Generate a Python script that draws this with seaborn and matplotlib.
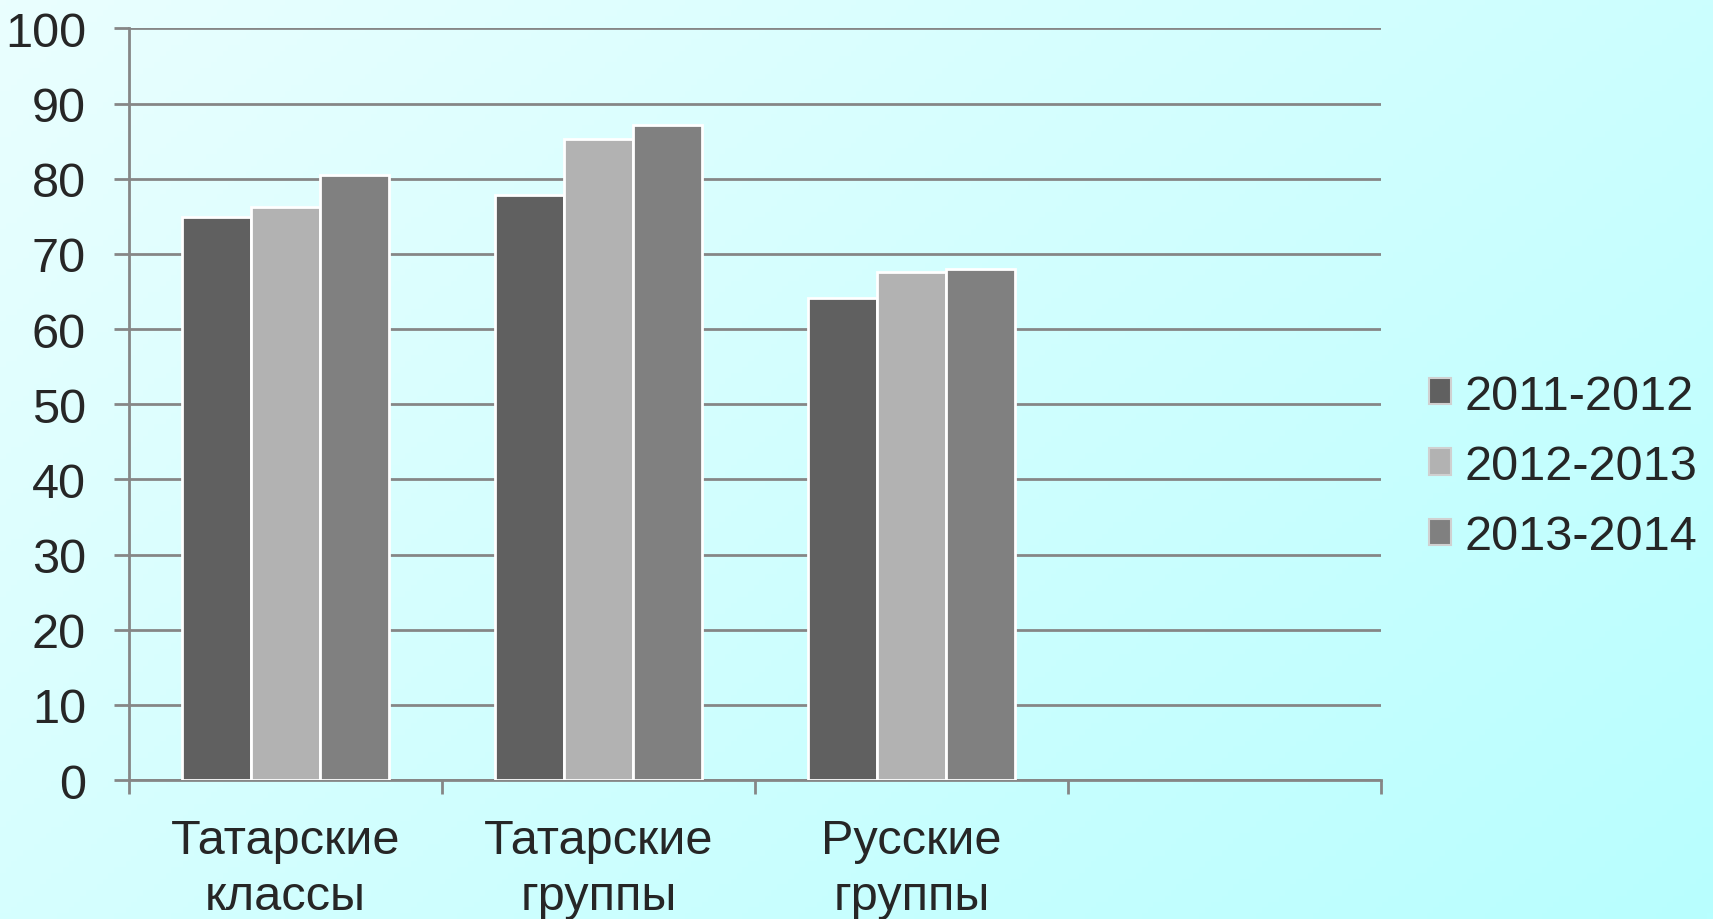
import numpy as np
import pandas as pd
import matplotlib
matplotlib.use("Agg")
import matplotlib.pyplot as plt
import seaborn as sns
from matplotlib.ticker import FixedLocator

# DATA
categories = ["Татарские\nклассы", "Татарские\nгруппы", "Русские\nгруппы"]
years = ["2011-2012", "2012-2013", "2013-2014"]
values_2011 = [74.9, 77.8, 64.1]
values_2012 = [76.2, 85.3, 67.6]
values_2013 = [80.5, 87.2, 68.0]
y_ticks = [0, 10, 20, 30, 40, 50, 60, 70, 80, 90, 100]

colors = ["#606060", "#b2b2b2", "#808080"]
grid_color = "#868686"

# STYLE
sns.set_theme(style="white")
plt.rcParams["font.family"] = ["Liberation Sans", "DejaVu Sans"]

df = pd.DataFrame({
    "category": categories * 3,
    "year": [years[0]] * 3 + [years[1]] * 3 + [years[2]] * 3,
    "value": values_2011 + values_2012 + values_2013,
})

fig = plt.figure(figsize=(17.13, 9.2), dpi=100)

# gradient background
bg = fig.add_axes([0, 0, 1, 1], zorder=-10)
gx, gy = np.meshgrid(np.linspace(0, 1, 300), np.linspace(0, 1, 160))
t = (gx * 0.6 + gy * 0.4)
top_left = np.array([234, 254, 254]) / 255
bottom_right = np.array([184, 255, 255]) / 255
img = top_left[None, None, :] * (1 - t[..., None]) + bottom_right[None, None, :] * t[..., None]
bg.imshow(img, aspect="auto", extent=[0, 1, 0, 1])
bg.axis("off")

ax = fig.add_axes([0.0753, 0.151, 0.7309, 0.817])
ax.set_facecolor("none")

sns.barplot(
    data=df, x="category", y="value", hue="year",
    order=categories, hue_order=years, palette=colors,
    width=0.66, edgecolor="white", linewidth=2, saturation=1,
    ax=ax, zorder=3,
)

ax.set_xlim(-0.5, 3.5)
ax.set_ylim(0, 100)
ax.set_yticks(y_ticks)
ax.set_xlabel("")
ax.set_ylabel("")

# grid and spines
ax.yaxis.grid(True, color=grid_color, linewidth=2, zorder=0)
ax.set_axisbelow(True)
for side in ["top", "right"]:
    ax.spines[side].set_visible(False)
for side in ["left", "bottom"]:
    ax.spines[side].set_color(grid_color)
    ax.spines[side].set_linewidth(2)

ax.tick_params(axis="y", direction="out", length=11, width=2, color=grid_color,
               labelsize=35, pad=20, left=True)
ax.set_xticks(range(len(categories)))
ax.set_xticklabels(categories, fontsize=35, linespacing=1.32)
ax.tick_params(axis="x", which="major", length=0, pad=27)
ax.xaxis.set_minor_locator(FixedLocator(np.arange(-0.5, 4.0, 1.0)))
ax.tick_params(axis="x", which="minor", direction="out", length=10, width=2,
               color=grid_color, bottom=True)

# legend
handles, labels = ax.get_legend_handles_labels()
for h in handles:
    h.set_edgecolor("#d0d0d0")
    h.set_linewidth(1.5)
ax.legend(
    handles, labels, loc="center left", bbox_to_anchor=(0.834, 0.492),
    bbox_transform=fig.transFigure, frameon=False, fontsize=35,
    handlelength=0.46, handleheight=0.46, handletextpad=0.28,
    labelspacing=0.52, borderpad=0, borderaxespad=0,
)

fig.savefig("out.png", dpi=100)
